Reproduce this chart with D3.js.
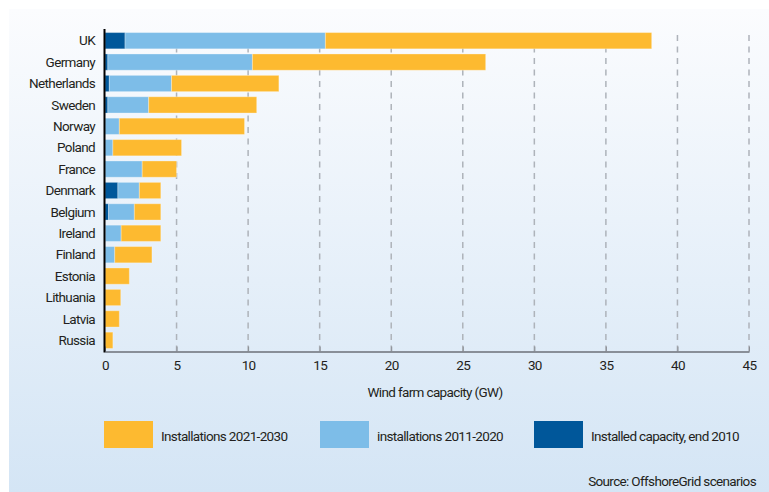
<!DOCTYPE html>
<html>
<head>
<meta charset="utf-8">
<script src="https://cdn.jsdelivr.net/npm/d3@7"></script>
<style>
  body { margin: 0; background: #fff; }
  text { font-family: "Liberation Sans Narrow", "Arial Narrow", Roboto, sans-serif; fill: #231f20; letter-spacing: -0.65px; }
</style>
</head>
<body>
<svg id="chart" width="769" height="492"></svg>
<script>
// countries, top to bottom
var countries = ["UK", "Germany", "Netherlands", "Sweden", "Norway", "Poland", "France",
  "Denmark", "Belgium", "Ireland", "Finland", "Estonia", "Lithuania", "Latvia", "Russia"];

// GW, stacked left to right
var cap2010  = [1.4, 0.2, 0.3, 0.2, 0.0, 0.0, 0.0, 0.9, 0.25, 0.03, 0.0, 0.0, 0.0, 0.0, 0.0];
var inst2011 = [14.0, 10.1, 4.35, 2.85, 1.0, 0.55, 2.6, 1.5, 1.8, 1.1, 0.68, 0.0, 0.0, 0.0, 0.0];
var inst2021 = [22.8, 16.3, 7.5, 7.55, 8.75, 4.8, 2.4, 1.5, 1.85, 2.77, 2.6, 1.7, 1.1, 1.0, 0.55];

var xTicks = [0, 5, 10, 15, 20, 25, 30, 35, 40, 45];

var seriesKeys = ["cap2010", "inst2011", "inst2021"];
var seriesNames = ["Installed capacity, end 2010", "installations 2011-2020", "Installations 2021-2030"];
var colors = ["#00579a", "#7dbde8", "#fdba30"];

var svg = d3.select("#chart");

// panel background
var defs = svg.append("defs");
var grad = defs.append("linearGradient")
    .attr("id", "bg").attr("x1", 0).attr("y1", 0).attr("x2", 0).attr("y2", 1);
grad.append("stop").attr("offset", "0%").attr("stop-color", "#fbfcfe");
grad.append("stop").attr("offset", "100%").attr("stop-color", "#d4e5f5");

svg.append("rect")
    .attr("x", 9).attr("y", 9)
    .attr("width", 760).attr("height", 483)
    .attr("fill", "url(#bg)");

var rows = countries.map(function(c, i) {
  return { country: c, cap2010: cap2010[i], inst2011: inst2011[i], inst2021: inst2021[i] };
});

var x = d3.scaleLinear().domain([0, 45]).range([105, 749]);
var y = d3.scaleBand().domain(countries).range([30, 351]).paddingInner(0.24).paddingOuter(0.12);

var axisY = 351.5;

// dashed grid
svg.append("g").selectAll("line")
  .data(xTicks.filter(function(d) { return d > 0; }))
  .enter().append("line")
    .attr("x1", function(d) { return x(d); })
    .attr("x2", function(d) { return x(d); })
    .attr("y1", 35).attr("y2", axisY)
    .attr("stroke", "#aeb3ba")
    .attr("stroke-width", 1.5)
    .attr("stroke-dasharray", "6,5.5");

// stacked bars
var stack = d3.stack().keys(seriesKeys);
var layers = stack(rows);

svg.append("g").selectAll("g")
  .data(layers)
  .enter().append("g")
    .attr("fill", function(d, i) { return colors[i]; })
  .selectAll("rect")
  .data(function(d) { return d.filter(function(p) { return p[1] - p[0] > 0; }); })
  .enter().append("rect")
    .attr("x", function(d) { return x(d[0]); })
    .attr("width", function(d) { return x(d[1]) - x(d[0]); })
    .attr("y", function(d) { return y(d.data.country); })
    .attr("height", y.bandwidth())
    .attr("stroke", "rgba(255,255,255,0.3)")
    .attr("stroke-width", 1);

// x axis
var xAxis = svg.append("g")
    .attr("transform", "translate(0," + axisY + ")")
    .call(d3.axisBottom(x).tickValues(xTicks).tickSize(0).tickPadding(9).tickFormat(d3.format("d")));
xAxis.select(".domain").attr("stroke", "#6d7178").attr("stroke-width", 1.5);
xAxis.selectAll(".tick text").style("font-size", "13.5px").attr("fill", "#231f20");
xAxis.selectAll(".tick").append("line")
    .attr("y1", 0).attr("y2", -5)
    .attr("stroke", "#8a8e95").attr("stroke-width", 1);

// y axis line
svg.append("line")
    .attr("x1", 104.5).attr("x2", 104.5)
    .attr("y1", 29).attr("y2", axisY + 1)
    .attr("stroke", "#000").attr("stroke-width", 2);

// country labels
svg.append("g").selectAll("text")
  .data(countries)
  .enter().append("text")
    .attr("x", 95)
    .attr("y", function(d) { return y(d) + y.bandwidth() / 2; })
    .attr("dy", "0.35em")
    .attr("text-anchor", "end")
    .style("font-size", "13.5px")
    .text(function(d) { return d; });

svg.append("text")
    .attr("x", 435).attr("y", 392)
    .attr("dy", "0.35em")
    .attr("text-anchor", "middle")
    .style("font-size", "13.5px")
    .text("Wind farm capacity (GW)");

// legend (same order as reference: 2021-2030, 2011-2020, 2010)
var legendOrder = [2, 1, 0];
var legendX = [104, 320, 534];
var legend = svg.append("g").selectAll("g")
  .data(legendOrder)
  .enter().append("g")
    .attr("transform", function(d, i) { return "translate(" + legendX[i] + ",421)"; });
legend.append("rect")
    .attr("width", 49).attr("height", 27)
    .attr("fill", function(d) { return colors[d]; });
legend.append("text")
    .attr("x", 57).attr("y", 15)
    .attr("dy", "0.35em")
    .style("font-size", "13.5px")
    .text(function(d) { return seriesNames[d]; });

svg.append("text")
    .attr("x", 756).attr("y", 481)
    .attr("dy", "0.35em")
    .attr("text-anchor", "end")
    .style("font-size", "13.5px")
    .text("Source: OffshoreGrid scenarios");
</script>
</body>
</html>
